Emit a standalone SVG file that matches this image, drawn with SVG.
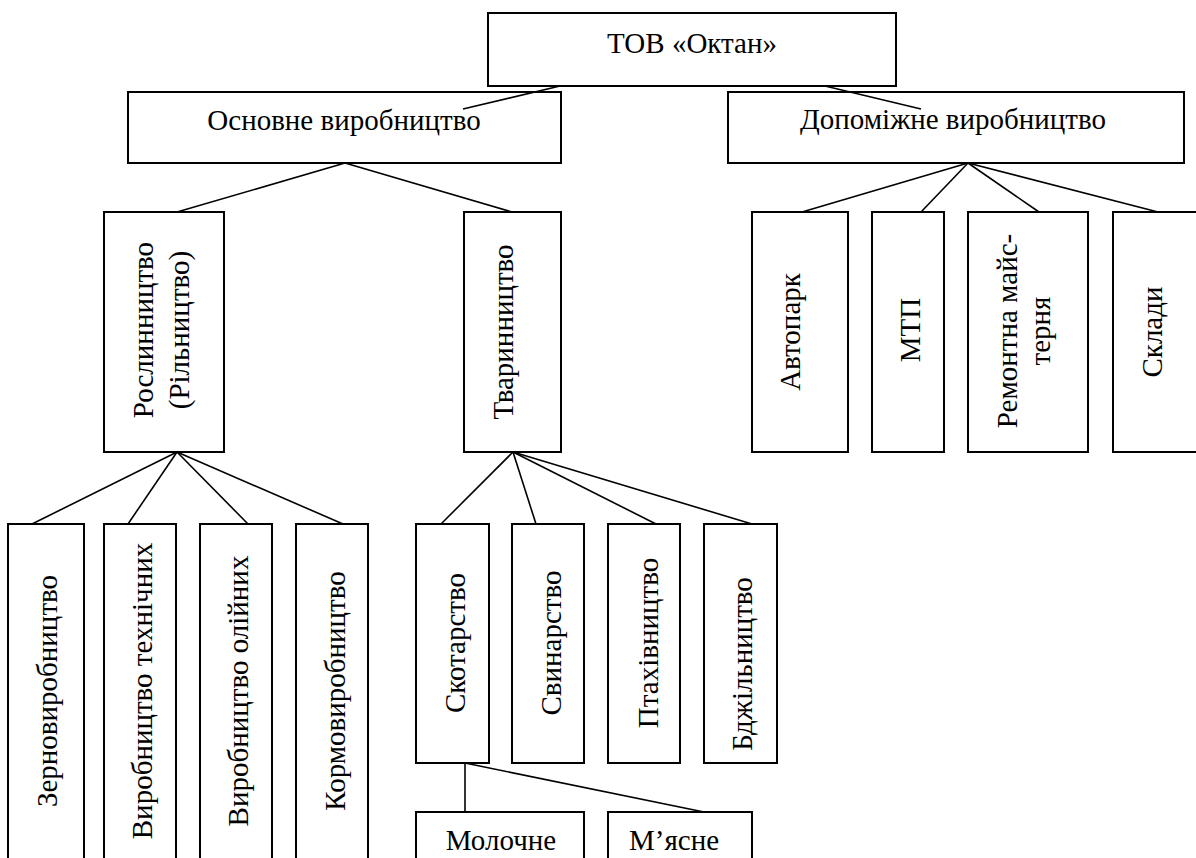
<svg xmlns="http://www.w3.org/2000/svg" width="1196" height="858" viewBox="0 0 1196 858">
<style>
.box{fill:#fff;stroke:#000;stroke-width:2}
.ln{stroke:#000;stroke-width:1.6;fill:none}
.t{font-family:'Liberation Serif','Times New Roman',serif;font-size:29px;fill:#000}
.m{text-anchor:middle}
</style>
<rect width="1196" height="858" fill="#fff"/>
<g class="t" font-family="Liberation Serif, Times New Roman, serif" font-size="29">
<g id="n-tov"><rect class="box" x="488" y="13" width="408" height="73"/><text class="m" x="692" y="53">ТОВ «Октан»</text></g>
<g id="n-osnovne"><rect class="box" x="128" y="92" width="433" height="71"/><text class="m" x="344" y="130">Основне виробництво</text></g>
<g id="n-dopomizhne"><rect class="box" x="728" y="92" width="456" height="71"/><text class="m" x="953" y="129">Допоміжне виробництво</text></g>
<g id="n-roslyn"><rect class="box" x="104" y="212" width="120" height="240"/>
<text class="m" transform="translate(153 330) rotate(-90)">Рослинництво</text>
<text class="m" transform="translate(189 330) rotate(-90)">(Рільництво)</text></g>
<g id="n-tvaryn"><rect class="box" x="464" y="212" width="97" height="240"/><text class="m" transform="translate(513 332) rotate(-90)">Тваринництво</text></g>
<g id="n-avtopark"><rect class="box" x="752" y="212" width="96" height="240"/><text class="m" transform="translate(800 332) rotate(-90)">Автопарк</text></g>
<g id="n-mtp"><rect class="box" x="872" y="212" width="72" height="240"/><text class="m" transform="translate(920 330) rotate(-90)">МТП</text></g>
<g id="n-remont"><rect class="box" x="968" y="212" width="120" height="240"/>
<text class="m" transform="translate(1017 331) rotate(-90)">Ремонтна майс-</text>
<text class="m" transform="translate(1050 331) rotate(-90)">терня</text></g>
<g id="n-sklady"><rect class="box" x="1113" y="212" width="100" height="240"/><text class="m" transform="translate(1162 332) rotate(-90)">Склади</text></g>
<g id="n-zerno"><rect class="box" x="8" y="524" width="76" height="350"/><text class="m" transform="translate(57 691) rotate(-90)">Зерновиробництво</text></g>
<g id="n-tekhn"><rect class="box" x="104" y="524" width="72" height="350"/><text class="m" transform="translate(152 691) rotate(-90)">Виробництво технічних</text></g>
<g id="n-oliin"><rect class="box" x="200" y="524" width="72" height="350"/><text class="m" transform="translate(248 691) rotate(-90)">Виробництво олійних</text></g>
<g id="n-kormo"><rect class="box" x="296" y="524" width="72" height="350"/><text class="m" transform="translate(345 691) rotate(-90)">Кормовиробництво</text></g>
<g id="n-skot"><rect class="box" x="416" y="524" width="73" height="239"/><text class="m" transform="translate(465 643) rotate(-90)">Скотарство</text></g>
<g id="n-svyn"><rect class="box" x="512" y="524" width="72" height="239"/><text class="m" transform="translate(561 643) rotate(-90)">Свинарство</text></g>
<g id="n-ptakh"><rect class="box" x="608" y="524" width="72" height="239"/><text class="m" transform="translate(658 643) rotate(-90)">Птахівництво</text></g>
<g id="n-bdzh"><rect class="box" x="704" y="524" width="73" height="239"/><text class="m" transform="translate(752 664) rotate(-90)">Бджільництво</text></g>
<g id="n-moloch"><rect class="box" x="416" y="812" width="168" height="60"/><text class="m" x="501" y="850">Молочне</text></g>
<g id="n-myasne"><rect class="box" x="608" y="812" width="144" height="60"/><text x="629" y="850">М’ясне</text></g>
</g>
<g id="connectors">
<line class="ln" x1="560" y1="86" x2="463" y2="109"/>
<line class="ln" x1="825" y1="86" x2="921" y2="109"/>
<line class="ln" x1="345" y1="163" x2="177" y2="212"/>
<line class="ln" x1="345" y1="163" x2="512" y2="212"/>
<line class="ln" x1="968" y1="163" x2="802" y2="212"/>
<line class="ln" x1="968" y1="163" x2="921" y2="212"/>
<line class="ln" x1="968" y1="163" x2="1039" y2="212"/>
<line class="ln" x1="968" y1="163" x2="1158" y2="212"/>
<line class="ln" x1="177" y1="452" x2="32" y2="524"/>
<line class="ln" x1="177" y1="452" x2="128" y2="524"/>
<line class="ln" x1="177" y1="452" x2="248" y2="524"/>
<line class="ln" x1="177" y1="452" x2="343" y2="524"/>
<line class="ln" x1="513" y1="452" x2="441" y2="524"/>
<line class="ln" x1="513" y1="452" x2="536" y2="524"/>
<line class="ln" x1="513" y1="452" x2="656" y2="524"/>
<line class="ln" x1="513" y1="452" x2="752" y2="524"/>
<line class="ln" x1="465" y1="763" x2="465" y2="812"/>
<line class="ln" x1="465" y1="763" x2="704" y2="812"/>
</g>
</svg>
